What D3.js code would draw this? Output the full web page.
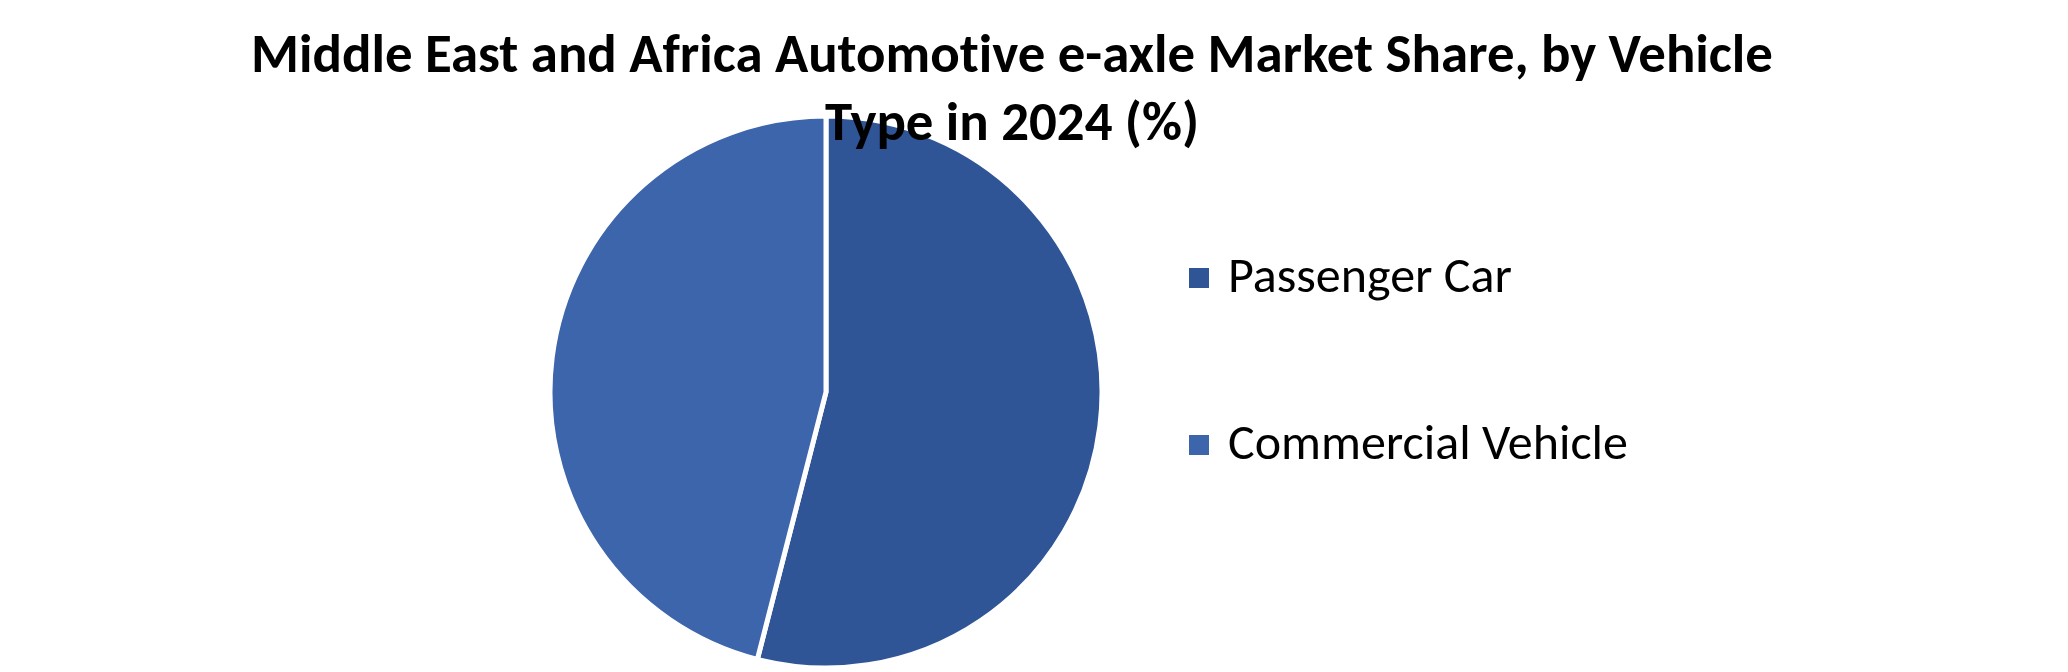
<!DOCTYPE html>
<html>
<head>
<meta charset="utf-8">
<script src="https://cdn.jsdelivr.net/npm/d3@7"></script>
<style>
  html, body { margin: 0; padding: 0; background: #fff; }
  svg { display: block; }
  text { font-variant-ligatures: none; }
</style>
</head>
<body>
<div id="chart"></div>
<script>
// Data
const categories = ["Passenger Car", "Commercial Vehicle"];
const shares = [54, 46];
const colors = ["#2F5597", "#3D65AB"];
const titleLines = [
    "Middle East and Africa Automotive e-axle Market Share, by Vehicle",
    "Type in 2024 (%)"
];

const width = 2068;
const height = 672;

const svg = d3.select("#chart")
    .append("svg")
    .attr("width", width)
    .attr("height", height);

const data = categories.map((c, i) => ({ category: c, value: shares[i] }));

const color = d3.scaleOrdinal()
    .domain(categories)
    .range(colors);

// Pie
const cx = 826, cy = 392, radius = 276;

const pie = d3.pie()
    .sort(null)
    .value(d => d.value);

const arc = d3.arc()
    .innerRadius(0)
    .outerRadius(radius);

const pieG = svg.append("g")
    .attr("transform", `translate(${cx},${cy})`);

pieG.selectAll("path")
    .data(pie(data))
    .enter()
    .append("path")
    .attr("d", arc)
    .attr("fill", d => color(d.data.category))
    .attr("stroke", "#fff")
    .attr("stroke-width", 5)
    .attr("stroke-linejoin", "miter");

// Title (drawn after pie so it overlaps like the original)
const titleFont = "Carlito, Lato, 'Open Sans', sans-serif";
const title = svg.append("g");
const titleTexts = title.selectAll("text")
    .data(titleLines)
    .enter()
    .append("text")
    .attr("x", 1012)
    .attr("y", (d, i) => 72 + i * 68)
    .attr("text-anchor", "middle")
    .style("font-family", titleFont)
    .style("font-weight", "bold")
    .style("font-size", "100px")
    .style("fill", "#000")
    .text(d => d);

// fit the first line to the original width
const w0 = titleTexts.node().getComputedTextLength();
titleTexts.style("font-size", `${100 * 1522 / w0}px`);

// Legend
const legend = svg.append("g")
    .attr("transform", "translate(1189, 0)");

const legendRows = [268, 435];

const items = legend.selectAll("g")
    .data(categories)
    .enter()
    .append("g")
    .attr("transform", (d, i) => `translate(0,${legendRows[i]})`);

items.append("rect")
    .attr("width", 20)
    .attr("height", 20)
    .attr("fill", d => color(d));

const legendTexts = items.append("text")
    .attr("x", 39)
    .attr("y", 24)
    .style("font-family", titleFont)
    .style("font-size", "100px")
    .style("fill", "#000")
    .text(d => d);

// fit "Commercial Vehicle" to the original width
const w1 = legendTexts.nodes()[1].getComputedTextLength();
legendTexts.style("font-size", `${100 * 400 / w1}px`);
</script>
</body>
</html>
